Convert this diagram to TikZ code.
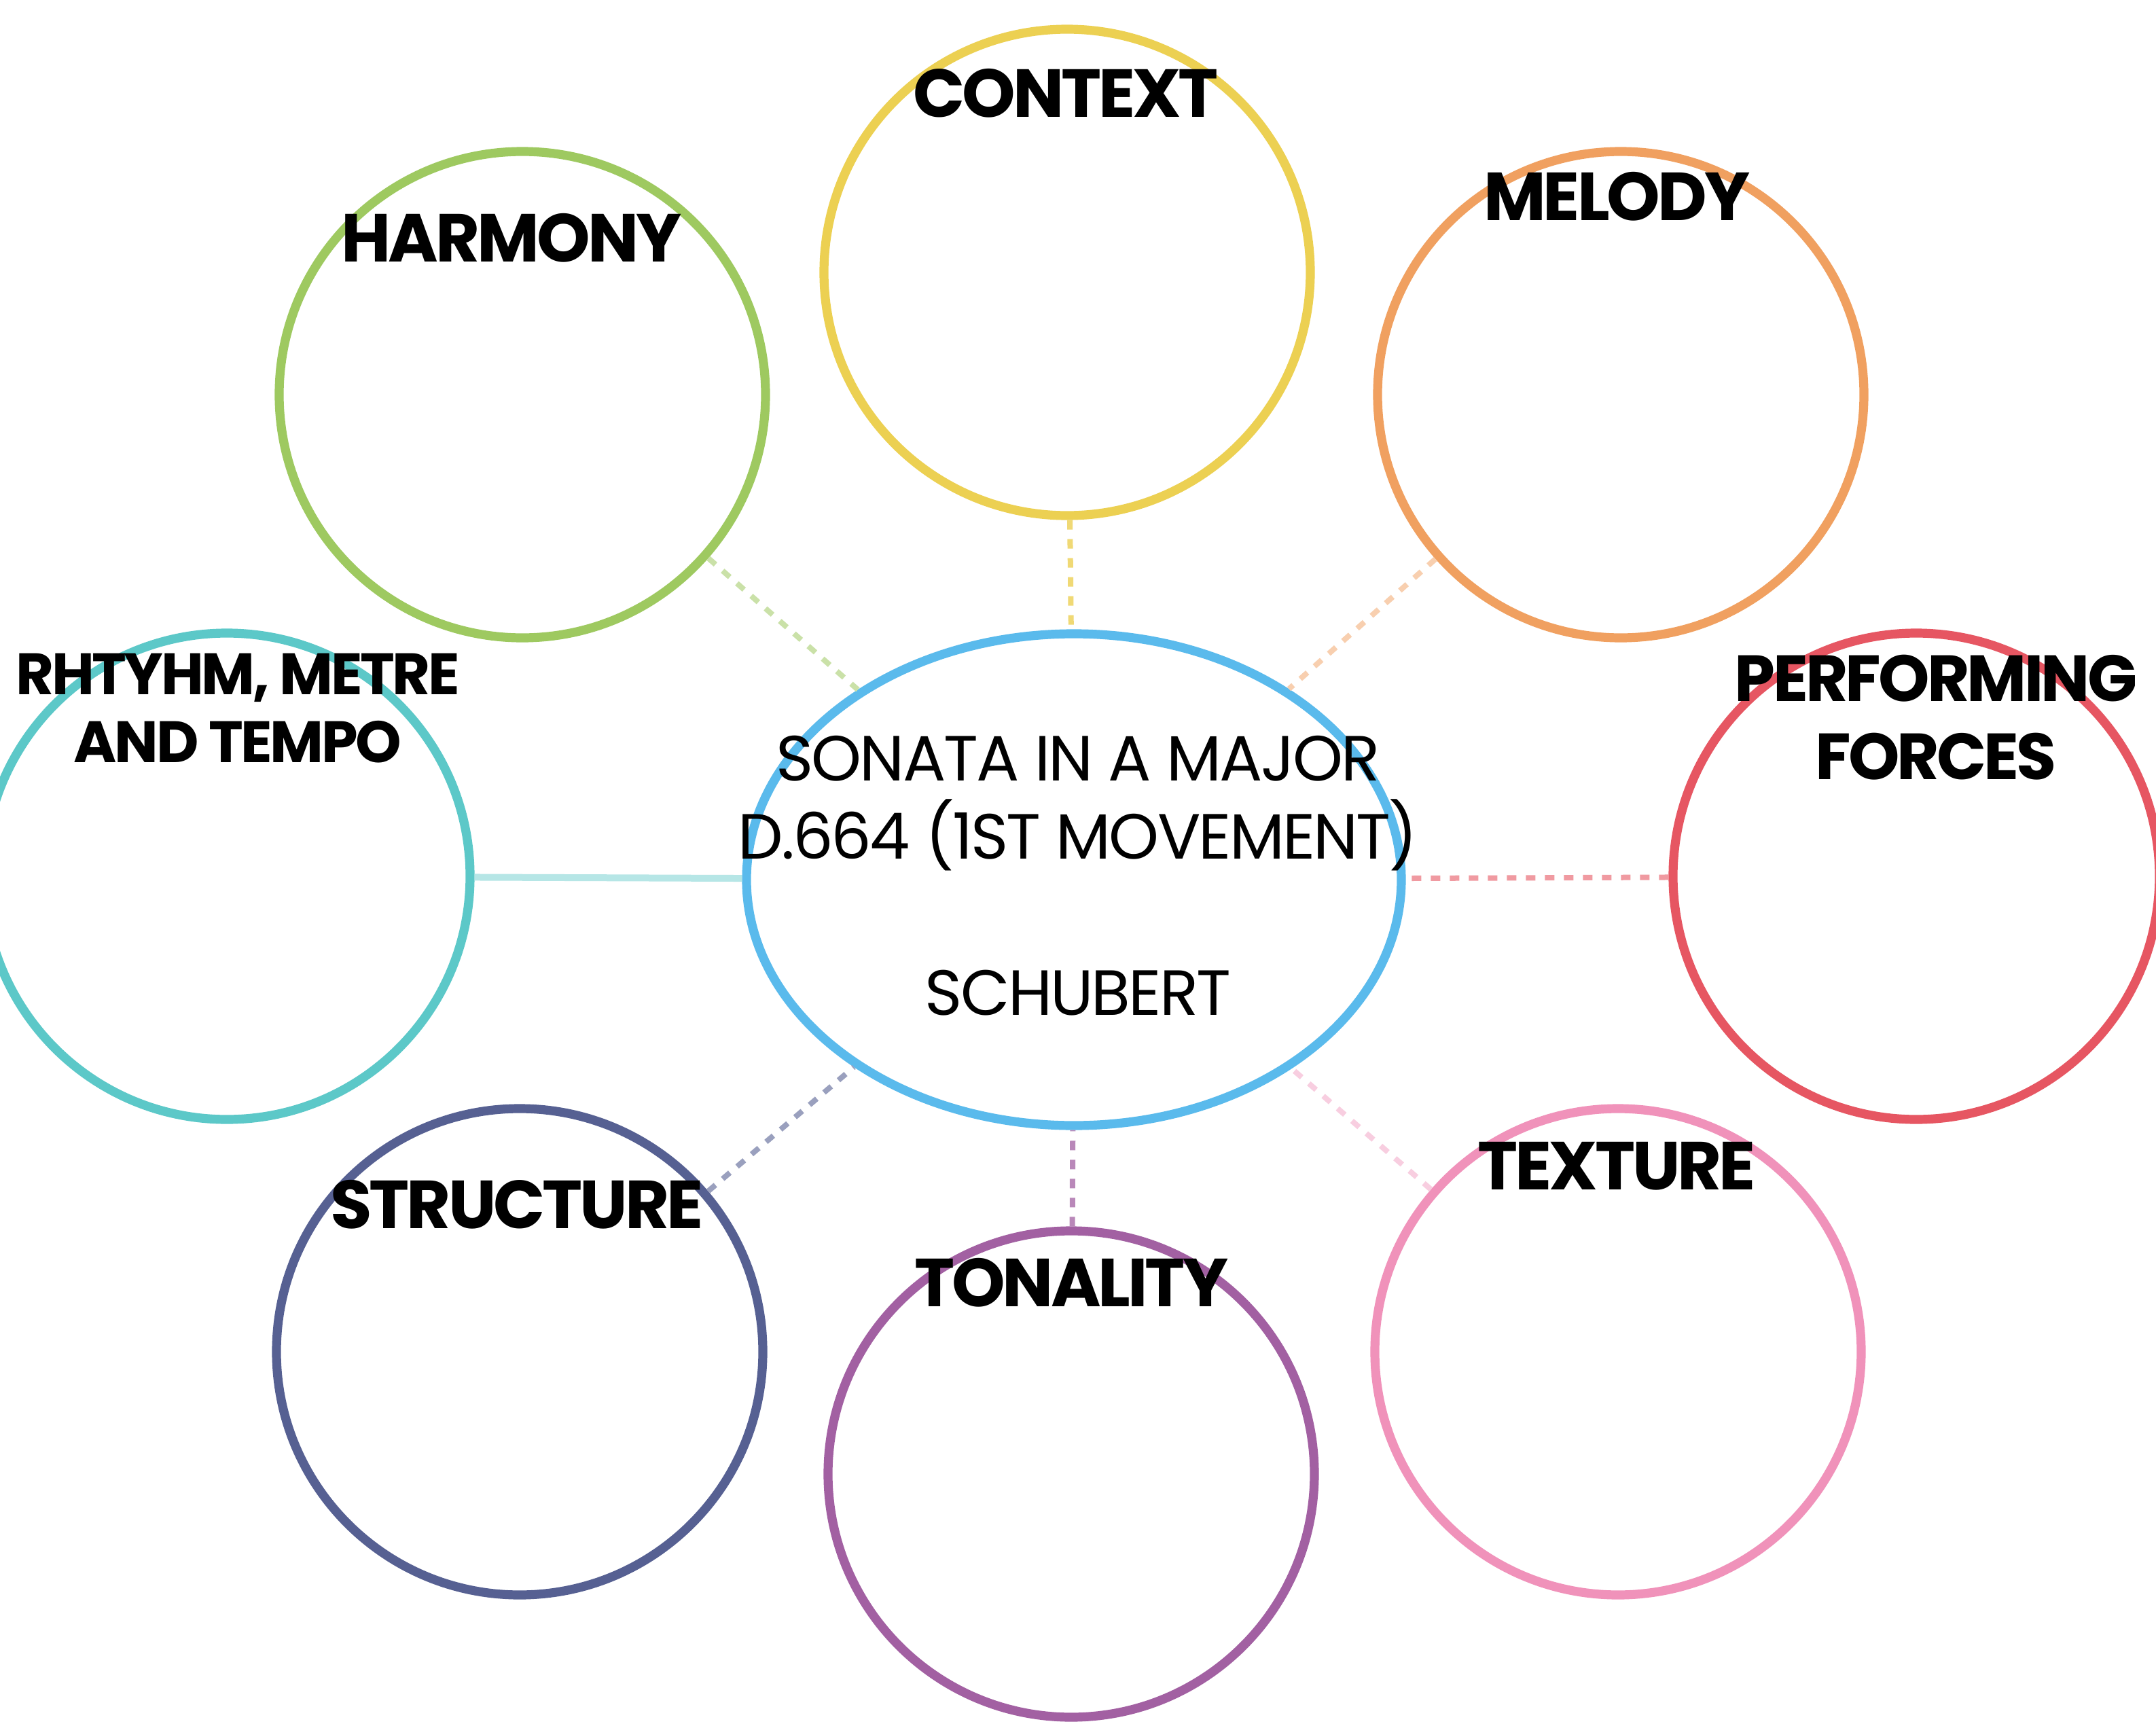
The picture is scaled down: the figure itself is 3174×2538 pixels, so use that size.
\documentclass[tikz,border=0pt]{standalone}
\usepackage{fontspec}
\setmainfont{Poppins}
\usetikzlibrary{shapes.geometric}
\definecolor{cctx}{RGB}{236,208,82}
\definecolor{char}{RGB}{158,201,96}
\definecolor{cmel}{RGB}{240,160,96}
\definecolor{crhy}{RGB}{92,200,200}
\definecolor{cper}{RGB}{230,86,98}
\definecolor{cstr}{RGB}{86,96,146}
\definecolor{cton}{RGB}{162,96,162}
\definecolor{ctex}{RGB}{240,146,186}
\definecolor{cmid}{RGB}{90,186,236}
\begin{document}
\begin{tikzpicture}[x=0.25pt,y=-0.25pt,
  bub/.style={circle,draw,line width=3.3pt,minimum size=179pt,inner sep=0pt},
  lab/.style={font=\fontsize{25}{30}\selectfont\bfseries\addfontfeatures{LetterSpace=-4},anchor=base,inner sep=0pt,align=center},
  mid/.style={font=\fontsize{23.5}{28.75}\selectfont\addfontfeatures{LetterSpace=-3},anchor=base,inner sep=0pt,align=center},
  link/.style={line width=2pt,dash pattern=on 3.5pt off 3.5pt}]
\fill[white] (0,0) rectangle (3174,2538);
\useasboundingbox (0,0) rectangle (3174,2538);
% bubbles
\node[bub,draw=cctx] (ctx) at (1571,401) {};
\node[bub,draw=char] (har) at (769,581) {};
\node[bub,draw=cmel] (mel) at (2386,581) {};
\node[bub,draw=crhy] (rhy) at (334,1290) {};
\node[bub,draw=cper] (per) at (2821,1290) {};
\node[bub,draw=cstr] (str) at (765,1990) {};
\node[bub,draw=cton] (ton) at (1577,2170) {};
\node[bub,draw=ctex] (tex) at (2382,1990) {};
\node[ellipse,draw=cmid,line width=3.3pt,minimum width=241pt,minimum height=181pt,inner sep=0pt] (mid) at (1581,1295) {};
% connectors
\draw[link,draw=cctx!80] (ctx) -- (mid);
\draw[link,draw=char!55] (har) -- (mid);
\draw[link,draw=cmel!50] (mel) -- (mid);
\draw[line width=2.5pt,draw=crhy!45] (rhy) -- (mid);
\draw[link,draw=cper!60] (per) -- (mid);
\draw[link,draw=cstr!60] (str) -- (mid);
\draw[link,draw=cton!75] (ton) -- (mid);
\draw[link,draw=ctex!45] (tex) -- (mid);
% labels
\node[lab] (lctx) at (1569,172) {CONTEXT};
\node[lab] (lhar) at (753,385) {HARMONY};
\node[lab] (lmel) at (2380,324) {MELODY};
\node[lab,font=\fontsize{21.5}{25}\selectfont\bfseries\addfontfeatures{LetterSpace=-4}] (lrhy) at (350,1122) {RHTYHM, METRE\\AND TEMPO};
\node[lab,font=\fontsize{24}{28.75}\selectfont\bfseries\addfontfeatures{LetterSpace=-4}] (lper) at (2850,1147) {PERFORMING\\FORCES};
\node[lab] (ltex) at (2380,1751) {TEXTURE};
\node[lab] (lstr) at (761,1808) {STRUCTURE};
\node[lab] (lton) at (1577,1923) {TONALITY};
\node[mid] (t1) at (1587,1494) {SONATA IN A MAJOR\\D.664 (1ST MOVEMENT)\\[28.75pt]SCHUBERT};
\end{tikzpicture}
\end{document}
